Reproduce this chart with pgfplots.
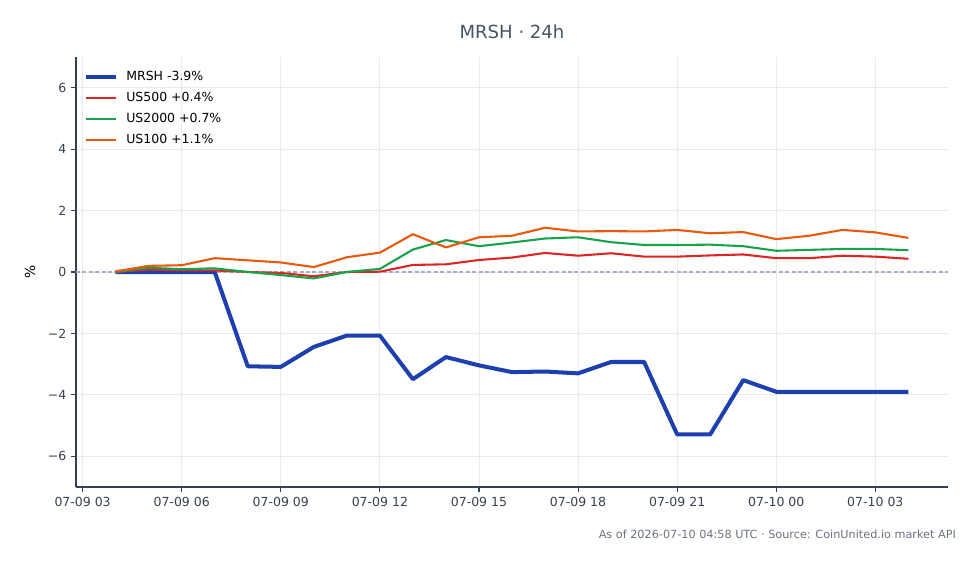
\documentclass[border=0pt]{standalone}
\usepackage{fontspec}
\setmainfont{DejaVu Sans}
\usepackage{pgfplots}
\pgfplotsset{compat=1.18}
\usepackage{pgfplotstable}
\definecolor{cblue}{HTML}{1E40AF}
\definecolor{cred}{HTML}{DC2626}
\definecolor{cgreen}{HTML}{16A34A}
\definecolor{corange}{HTML}{EA580C}
\definecolor{ctitle}{HTML}{475569}
\definecolor{ctick}{HTML}{374151}
\definecolor{cspine}{HTML}{334155}
\definecolor{cgrid}{HTML}{E8EAEE}
\definecolor{czero}{HTML}{A3AEC2}
\definecolor{cfoot}{HTML}{6B7280}

\pgfplotstableread{
h mrsh us500 us2000 us100
4 0 0 0 0.02
5 0 0.08 0.14 0.20
6 0 0.05 0.09 0.22
7 0 0.05 0.12 0.45
8 -3.07 0.0 0.0 0.38
9 -3.09 -0.03 -0.10 0.31
10 -2.44 -0.14 -0.21 0.16
11 -2.07 0.0 0.0 0.48
12 -2.07 0.01 0.10 0.63
13 -3.49 0.23 0.73 1.23
14 -2.77 0.25 1.04 0.80
15 -3.04 0.39 0.84 1.13
16 -3.26 0.47 0.96 1.18
17 -3.24 0.62 1.09 1.44
18 -3.30 0.53 1.13 1.32
19 -2.93 0.61 0.97 1.33
20 -2.93 0.50 0.88 1.32
21 -5.29 0.50 0.88 1.37
22 -5.29 0.54 0.89 1.26
23 -3.52 0.57 0.84 1.30
24 -3.90 0.45 0.69 1.07
25 -3.90 0.45 0.72 1.18
26 -3.90 0.53 0.75 1.37
27 -3.90 0.50 0.75 1.29
28 -3.90 0.43 0.71 1.11
}\data

\begin{document}
\begin{tikzpicture}
\useasboundingbox (-54.72pt,-55.44pt) rectangle (650.88pt,350.64pt);
\begin{axis}[
  at={(0,0)}, anchor=south west,
  scale only axis, width=627.84pt, height=309.6pt,
  clip=false,
  xmin=2.8, xmax=29.2, ymin=-7, ymax=7,
  axis x line*=bottom, axis y line*=left,
  axis line style={cspine, line width=0.8pt, -},
  tick align=outside, major tick length=3.5pt,
  tick style={cspine, line width=0.8pt},
  xtick={3,6,9,12,15,18,21,24,27},
  xticklabels={07-09 03,07-09 06,07-09 09,07-09 12,07-09 15,07-09 18,07-09 21,07-10 00,07-10 03},
  ytick={-6,-4,-2,0,2,4,6},
  yticklabels={−6,−4,−2,0,2,4,6},
  ticklabel style={font=\fontsize{9}{10}\selectfont, text=ctick},
  xticklabel style={yshift=-0.5pt},
  grid=major, major grid style={cgrid, line width=0.6pt},
  ylabel={\%}, ylabel style={font=\fontsize{10}{12}\selectfont, text=ctick},
  every axis y label/.style={at={(rel axis cs:0,0.5)}, xshift=-33pt, rotate=90, anchor=center},
  legend cell align=left,
  legend style={at={(rel axis cs:0,1)}, anchor=north west, draw=none, fill=none,
    font=\fontsize{9}{10}\selectfont, xshift=3.5pt, yshift=-6pt,
    row sep=3pt, column sep=4pt, inner sep=2pt},
  legend image code/.code={\draw[#1] (0pt,0pt) -- (21.6pt,0pt);},
]
\draw[czero, line width=0.75pt, dash pattern=on 2.9pt off 1.7pt] (axis cs:2.8,0) -- (axis cs:29.2,0);
\addplot[cblue, line width=2.9pt, line join=round] table[x=h, y=mrsh] {\data};
\addlegendentry{MRSH -3.9\%}
\addplot[cred, line width=1.5pt, line join=round] table[x=h, y=us500] {\data};
\addlegendentry{US500 +0.4\%}
\addplot[cgreen, line width=1.5pt, line join=round] table[x=h, y=us2000] {\data};
\addlegendentry{US2000 +0.7\%}
\addplot[corange, line width=1.5pt, line join=round] table[x=h, y=us100] {\data};
\addlegendentry{US100 +1.1\%}
\node[font=\fontsize{13}{15}\selectfont, text=ctitle] at (rel axis cs:0.5,1) [yshift=18pt] {MRSH · 24h};
\node[font=\fontsize{8.1}{10}\selectfont, text=cfoot, anchor=east, inner sep=0pt] at (rel axis cs:1,0) [xshift=5.9pt, yshift=-33.8pt] {As of 2026-07-10 04:58 UTC · Source: CoinUnited.io market API};
\end{axis}
\end{tikzpicture}
\end{document}
